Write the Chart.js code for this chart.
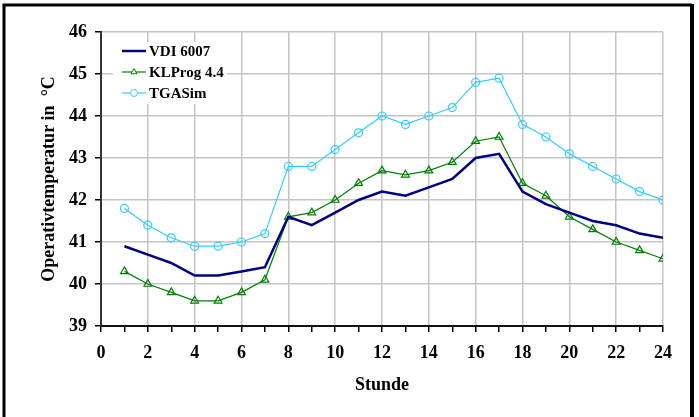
<!DOCTYPE html>
<html>
<head>
<meta charset="utf-8">
<title>Operativtemperatur</title>
<script src="https://cdn.jsdelivr.net/npm/chart.js@4/dist/chart.umd.min.js"></script>
<style>
	body { margin:0; background:#fff; }
	canvas { display:block; }
</style>
</head>
<body>
<canvas id="temp-chart" width="699" height="417"></canvas>
<script>
(function(){
	var stunden = [1,2,3,4,5,6,7,8,9,10,11,12,13,14,15,16,17,18,19,20,21,22,23,24];

	var vdi6007 = [40.9,40.7,40.5,40.2,40.2,40.3,40.4,41.6,41.4,41.7,42.0,42.2,42.1,42.3,42.5,43.0,43.1,42.2,41.9,41.7,41.5,41.4,41.2,41.1];
	var klprog  = [40.3,40.0,39.8,39.6,39.6,39.8,40.1,41.6,41.7,42.0,42.4,42.7,42.6,42.7,42.9,43.4,43.5,42.4,42.1,41.6,41.3,41.0,40.8,40.6];
	var tgasim  = [41.8,41.4,41.1,40.9,40.9,41.0,41.2,42.8,42.8,43.2,43.6,44.0,43.8,44.0,44.2,44.8,44.9,43.8,43.5,43.1,42.8,42.5,42.2,42.0];

	var serien = ['VDI 6007','KLProg 4.4','TGASim'];
	var yTicks = [39,40,41,42,43,44,45,46];
	var xTicks = [0,2,4,6,8,10,12,14,16,18,20,22,24];

	var font = 'Liberation Serif, Times New Roman, serif';

	var toPoints = function(values){
		return values.map(function(v, i){ return { x: stunden[i], y: v }; });
	};

	// white page with the black frame around it
	var frame = {
		id: 'frame',
		beforeDraw: function(chart){
			var ctx = chart.ctx;
			ctx.save();
			ctx.fillStyle = '#fff';
			ctx.fillRect(0, 0, chart.width, chart.height);
			ctx.strokeStyle = '#000';
			ctx.lineWidth = 3;
			ctx.beginPath();
			ctx.moveTo(4, chart.height + 5);
			ctx.lineTo(4, 5);
			ctx.lineTo(692, 5);
			ctx.stroke();
			ctx.lineWidth = 4;
			ctx.beginPath();
			ctx.moveTo(692, 4);
			ctx.lineTo(692, chart.height + 5);
			ctx.stroke();
			ctx.restore();
		}
	};

	// legend box in the upper left corner of the plot
	var innerLegend = {
		id: 'innerLegend',
		afterDatasetsDraw: function(chart){
			var ctx = chart.ctx;
			var area = chart.chartArea;
			var left = area.left + 12;
			var top = area.top + 10;
			ctx.save();
			ctx.fillStyle = '#fff';
			ctx.fillRect(left, top, 114, 62);
			ctx.font = 'bold 15px ' + font;
			ctx.textBaseline = 'middle';
			chart.data.datasets.forEach(function(ds, i){
				var y = top + 9 + i * 21;
				ctx.strokeStyle = ds.borderColor;
				ctx.lineWidth = ds.borderWidth;
				ctx.beginPath();
				ctx.moveTo(left + 9, y);
				ctx.lineTo(left + 33, y);
				ctx.stroke();
				if (ds.pointRadius > 0) {
					ctx.fillStyle = '#fff';
					ctx.lineWidth = 1;
					Chart.helpers.drawPoint(ctx, { pointStyle: ds.pointStyle, radius: 3.5, rotation: 0, borderWidth: 1 }, left + 21, y);
				}
				ctx.fillStyle = '#000';
				ctx.fillText(ds.label, left + 36, y + 1);
			});
			ctx.restore();
		}
	};

	var ctx = document.getElementById('temp-chart').getContext('2d');

	new Chart(ctx, {
		type: 'line',
		data: {
			datasets: [
				{
					label: serien[0],
					data: toPoints(vdi6007),
					borderColor: '#000080',
					backgroundColor: '#000080',
					borderWidth: 2.5,
					pointRadius: 0
				},
				{
					label: serien[1],
					data: toPoints(klprog),
					borderColor: '#008000',
					backgroundColor: 'transparent',
					borderWidth: 1.2,
					pointStyle: 'triangle',
					pointRadius: 4.5,
					pointBorderWidth: 1.2
				},
				{
					label: serien[2],
					data: toPoints(tgasim),
					borderColor: '#33ccff',
					backgroundColor: 'transparent',
					borderWidth: 1.2,
					pointStyle: 'circle',
					pointRadius: 4,
					pointBorderWidth: 1.2
				}
			]
		},
		options: {
			responsive: false,
			devicePixelRatio: 1,
			animation: false,
			layout: { padding: { top: 32, right: 36, left: 0, bottom: 0 } },
			plugins: {
				legend: { display: false },
				tooltip: { enabled: false }
			},
			elements: { line: { tension: 0 } },
			scales: {
				x: {
					type: 'linear',
					min: 0,
					max: 24,
					afterFit: function(scale){ scale.height = 91; },
					afterBuildTicks: function(scale){
						var t = [];
						for (var i = 0; i <= 24; i++) t.push({ value: i });
						scale.ticks = t;
					},
					ticks: {
						autoSkip: false,
						maxRotation: 0,
						padding: 11,
						color: '#000',
						font: { family: font, size: 18, weight: 'bold' },
						callback: function(v){ return xTicks.indexOf(v) >= 0 ? String(v) : ''; }
					},
					grid: {
						color: function(c){
							return (c.tick && c.tick.value % 2 === 0) ? '#c4c4c4' : 'transparent';
						},
						lineWidth: 1.5,
						tickColor: '#000',
						tickLength: 6
					},
					border: { color: '#111', width: 2 },
					title: {
						display: true,
						text: 'Stunde',
						color: '#000',
						font: { family: font, size: 18, weight: 'bold' },
						padding: { top: 0, bottom: 21 }
					}
				},
				y: {
					min: 39,
					max: 46,
					afterFit: function(scale){ scale.width = 101; },
					afterBuildTicks: function(scale){
						scale.ticks = yTicks.map(function(v){ return { value: v }; });
					},
					ticks: {
						padding: 8,
						color: '#000',
						font: { family: font, size: 18, weight: 'bold' }
					},
					grid: {
						color: '#c4c4c4',
						lineWidth: 1.5,
						tickColor: '#000',
						tickLength: 6
					},
					border: { color: '#333', width: 2 },
					title: {
						display: true,
						text: 'Operativtemperatur in  \u00b0C',
						color: '#000',
						font: { family: font, size: 18, weight: 'bold' },
						padding: { top: 39, bottom: 0 }
					}
				}
			}
		},
		plugins: [frame, innerLegend]
	});
})();
</script>
</body>
</html>
